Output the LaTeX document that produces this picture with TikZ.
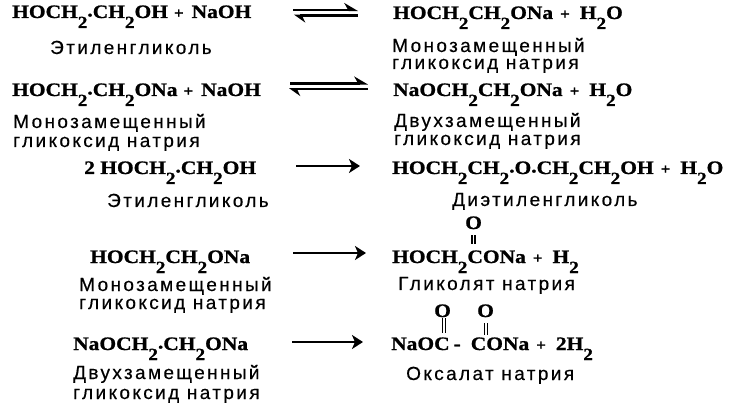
\documentclass[tikz,border=0pt]{standalone}
\usepackage{fontspec}
\setmainfont{Liberation Serif}
\newfontfamily\chemf[FakeStretch=1.13,FakeBold=1]{Liberation Serif Bold}
\newfontfamily\lab[LetterSpace=12.5,FakeBold=0.4]{Liberation Sans}
\usetikzlibrary{arrows.meta}
\newcommand{\sub}{\raisebox{-10pt}{\fontsize{17}{17}\selectfont 2}}
\newcommand{\cdotb}{\raisebox{1.5pt}{.}}
\newcommand{\plusb}{\hspace{6pt}{\fontsize{15}{15}\selectfont +}\hspace{8pt}}
\newcommand{\plusr}{\hspace{7pt}{\fontsize{15}{15}\selectfont +}\hspace{10pt}}
\tikzset{
 chem/.style={anchor=base west,inner sep=0pt,font=\fontsize{19}{20}\chemf},
 lbl/.style={anchor=base west,inner sep=0pt,font=\fontsize{19}{20}\lab},
 arr/.style={line width=2pt,-{Stealth[length=11pt,width=14pt,inset=3pt]}},
 hup/.style={line width=2.2pt,-{Stealth[length=12pt,width=14pt,left]}},
 hdown/.style={line width=2.2pt,-{Stealth[length=10pt,width=14pt,left]}},
 dbond/.style={double,double distance=1.2pt,line width=1.5pt}
}
\begin{document}
\begin{tikzpicture}[x=1pt,y=-1pt]
\useasboundingbox (0,0) rectangle (736,406);
% row 1
\node[chem] (a1) at (12,18) {HOCH\sub\cdotb CH\sub OH\plusb NaOH};
\node[lbl] (a1l) at (50,54) {Этиленгликоль};
\node[chem] (b1) at (393,19) {HOCH\sub CH\sub ONa\plusr H\sub O};
\node[lbl] (b1l) at (392,52) {Монозамещенный};
\node[lbl] (b1m) at (392,69) {гликоксид натрия};
\coordinate (e1a) at (293,10); \coordinate (e1b) at (358,10);
\coordinate (e1c) at (358,15.5); \coordinate (e1d) at (294,15.5);
\draw[hup] (e1a) -- (e1b);
\draw[hdown] (e1c) -- (e1d);
% row 2
\node[chem] (a2) at (12,96) {HOCH\sub\cdotb CH\sub ONa\plusb NaOH};
\node[lbl] (a2l) at (13,128) {Монозамещенный};
\node[lbl] (a2m) at (13,147) {гликоксид натрия};
\node[chem] (b2) at (393,96) {NaOCH\sub CH\sub ONa\plusr H\sub O};
\node[lbl] (b2l) at (394,127) {Двухзамещенный};
\node[lbl] (b2m) at (394,145) {гликоксид натрия};
\coordinate (e2a) at (290,83.5); \coordinate (e2b) at (368,83.5);
\coordinate (e2c) at (368,89); \coordinate (e2d) at (289,89);
\draw[hup] (e2a) -- (e2b);
\draw[hdown] (e2c) -- (e2d);
% row 3
\node[chem] (a3) at (84,174) {2 HOCH\sub\cdotb CH\sub OH};
\node[lbl] (a3l) at (107,207) {Этиленгликоль};
\node[chem] (b3) at (392,174) {HOCH\sub CH\sub\cdotb O\cdotb CH\sub CH\sub OH\plusr H\sub O};
\node[lbl] (b3l) at (452,206) {Диэтиленгликоль};
\coordinate (e3a) at (296,166); \coordinate (e3b) at (360,166);
\draw[arr] (e3a) -- (e3b);
% row 4
\node[chem] (a4) at (90,263) {HOCH\sub CH\sub ONa};
\node[lbl] (a4l) at (79,291) {Монозамещенный};
\node[lbl] (a4m) at (79,309) {гликоксид натрия};
\node[chem] (b4) at (392,263) {HOCH\sub CONa\plusr H\sub};
\node[lbl] (b4l) at (398,290) {Гликолят натрия};
\node[chem] (o4) at (465,229) {O};
\coordinate (p4) at (473.5,235); \coordinate (q4) at (473.5,244);
\draw[dbond] (p4) -- (q4);
\coordinate (e4a) at (293,253); \coordinate (e4b) at (366,253);
\draw[arr] (e4a) -- (e4b);
% row 5
\node[chem] (a5) at (73,350) {NaOCH\sub\cdotb CH\sub ONa};
\node[lbl] (a5l) at (73,379) {Двухзамещенный};
\node[lbl] (a5m) at (73,399) {гликоксид натрия};
\node[chem] (b5) at (391,350) {NaOC\hspace{4pt}-\hspace{10pt}CONa\plusr 2H\sub};
\node[lbl] (b5l) at (406,380) {Оксалат натрия};
\node[chem] (o5a) at (434,317) {O};
\node[chem] (o5b) at (477,317) {O};
\coordinate (p5) at (444,318); \coordinate (q5) at (444,333);
\coordinate (r5) at (486,323); \coordinate (s5) at (486,335);
\draw[dbond] (p5) -- (q5);
\draw[dbond] (r5) -- (s5);
\coordinate (e5a) at (292,342); \coordinate (e5b) at (363,342);
\draw[arr] (e5a) -- (e5b);
\end{tikzpicture}
\end{document}
